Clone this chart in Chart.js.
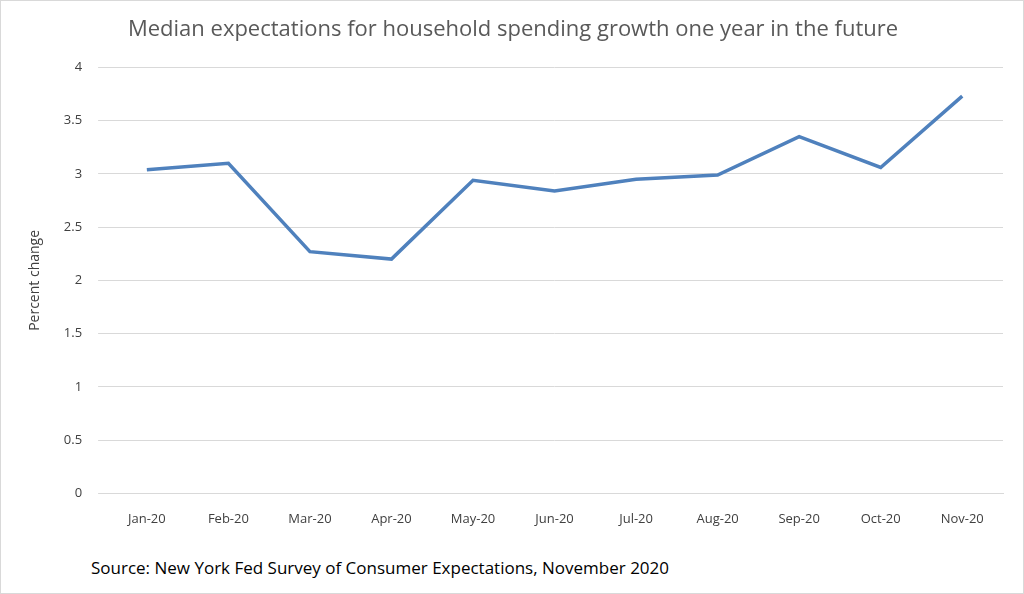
<!DOCTYPE html>
<html><head><meta charset="utf-8">
<script src="https://cdn.jsdelivr.net/npm/chart.js@4/dist/chart.umd.min.js"></script>
<style>
html,body{margin:0;padding:0;background:#fff;}
#wrap{position:relative;width:1022px;height:592px;border:1px solid #d9d9d9;}
#src{position:absolute;left:90px;top:555px;font:17px "Open Sans",sans-serif;color:#000;}
</style></head><body>
<div id="wrap"><canvas id="c" width="1022" height="540"></canvas>
<div id="src">Source: New York Fed Survey of Consumer Expectations, November 2020</div></div>
<script>
const categories=["Jan-20","Feb-20","Mar-20","Apr-20","May-20","Jun-20","Jul-20","Aug-20","Sep-20","Oct-20","Nov-20"];
const values=[3.04,3.10,2.27,2.20,2.94,2.84,2.95,2.99,3.35,3.06,3.73];
const yTicks=[0,0.5,1,1.5,2,2.5,3,3.5,4];
new Chart(document.getElementById('c'),{
 type:'line',
 data:{labels:categories,datasets:[{data:values,borderColor:'#4f81bd',borderWidth:3.5,pointRadius:0,tension:0}]},
 options:{responsive:false,animation:false,
  layout:{padding:{left:22,right:20,top:0,bottom:4}},
  plugins:{legend:{display:false},
   title:{display:true,text:'Median expectations for household spending growth one year in the future',color:'#595959',font:{family:'Open Sans',size:22,weight:'normal'},padding:{top:16,bottom:24}}},
  scales:{
   x:{offset:true,grid:{display:false},border:{color:'#d9d9d9'},ticks:{color:'#404040',font:{family:'Open Sans',size:13},padding:10}},
   y:{min:0,max:4,afterBuildTicks:a=>{a.ticks=yTicks.map(v=>({value:v}));},
    grid:{color:'#d9d9d9'},border:{display:false},
    ticks:{color:'#404040',font:{family:'Open Sans',size:13},padding:16,callback:v=>String(v)},
    title:{display:true,text:'Percent change',color:'#404040',font:{family:'Open Sans',size:14}}}
  }}
});
</script></body></html>
